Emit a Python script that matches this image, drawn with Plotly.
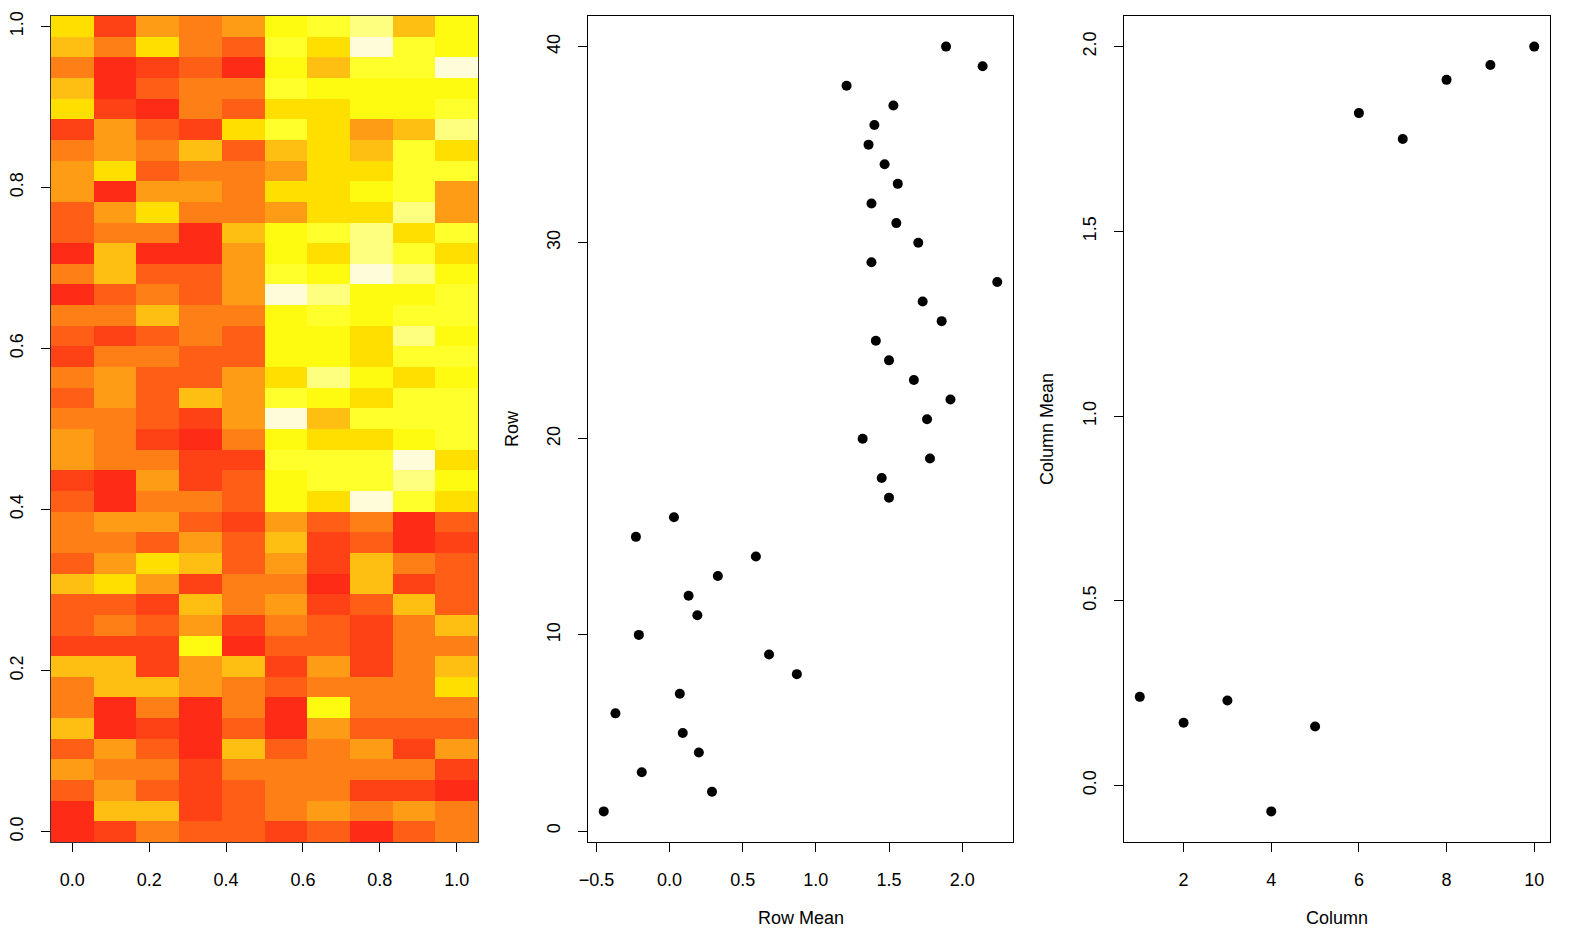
import numpy as np
import plotly.graph_objects as go

# heat.colors levels of each cell (top row first, columns left to right)
heat_levels = [
    [7, 2, 5, 4, 5, 8, 9, 10, 6, 8],
    [6, 4, 7, 4, 3, 9, 7, 11, 9, 8],
    [4, 1, 2, 3, 1, 8, 6, 9, 9, 11],
    [6, 1, 3, 4, 4, 9, 8, 8, 8, 8],
    [7, 2, 1, 4, 3, 7, 7, 8, 8, 9],
    [2, 5, 3, 2, 7, 9, 7, 5, 6, 10],
    [4, 5, 4, 6, 3, 6, 7, 6, 9, 7],
    [5, 7, 3, 4, 4, 5, 7, 7, 9, 9],
    [5, 1, 5, 5, 4, 7, 7, 8, 9, 5],
    [3, 5, 7, 4, 4, 5, 7, 7, 10, 5],
    [3, 4, 4, 1, 6, 8, 9, 10, 7, 9],
    [1, 6, 1, 1, 5, 8, 7, 10, 9, 7],
    [4, 6, 3, 3, 5, 9, 8, 11, 10, 8],
    [1, 3, 4, 3, 5, 11, 10, 8, 8, 9],
    [4, 4, 6, 4, 4, 8, 9, 8, 9, 9],
    [3, 2, 3, 4, 3, 8, 8, 7, 10, 8],
    [2, 4, 4, 3, 3, 8, 8, 7, 9, 9],
    [4, 5, 3, 3, 5, 7, 10, 8, 7, 8],
    [3, 5, 3, 6, 5, 9, 8, 7, 9, 9],
    [4, 4, 3, 2, 5, 11, 6, 9, 9, 9],
    [5, 4, 2, 1, 4, 8, 7, 7, 8, 9],
    [5, 4, 4, 2, 2, 9, 9, 9, 11, 7],
    [2, 1, 5, 2, 3, 8, 9, 9, 10, 8],
    [3, 1, 4, 4, 3, 8, 7, 11, 9, 7],
    [4, 5, 5, 3, 2, 5, 3, 4, 1, 3],
    [4, 4, 3, 5, 3, 6, 2, 3, 1, 2],
    [3, 5, 7, 6, 3, 5, 2, 6, 4, 3],
    [6, 7, 5, 2, 4, 4, 1, 6, 2, 3],
    [3, 3, 2, 6, 4, 5, 2, 3, 6, 3],
    [3, 4, 3, 5, 2, 4, 3, 2, 4, 6],
    [2, 2, 2, 8, 1, 3, 3, 2, 4, 4],
    [6, 6, 2, 5, 6, 2, 5, 2, 4, 6],
    [4, 6, 6, 5, 4, 3, 4, 4, 4, 7],
    [4, 1, 4, 1, 4, 1, 8, 4, 4, 4],
    [6, 1, 2, 1, 3, 1, 5, 3, 3, 3],
    [3, 5, 3, 1, 6, 3, 4, 5, 2, 5],
    [5, 4, 4, 2, 4, 4, 4, 4, 4, 2],
    [3, 5, 3, 2, 3, 4, 4, 2, 2, 1],
    [1, 6, 6, 2, 3, 4, 5, 4, 5, 4],
    [1, 2, 4, 3, 3, 2, 3, 1, 3, 4],
]
heat_x = [0.0, 1/9, 2/9, 3/9, 4/9, 5/9, 6/9, 7/9, 8/9, 1.0]

# rendered heat.colors palette (12 steps, lowest one not used here)
heat_palette = ["#FE1A14", "#FE2B17", "#FE4215", "#FE5E15", "#FE7F15", "#FE9D15",
                "#FEBE12", "#FEDF00", "#FEFB10", "#FFFF2C", "#FFFF7F", "#FFFCDA"]

# row means, for row 1 (bottom) up to row 40 (top)
row_index = list(range(1, 41))
row_means = [-0.45, 0.29, -0.19, 0.20, 0.09, -0.37, 0.07, 0.87, 0.68, -0.21,
             0.19, 0.13, 0.33, 0.59, -0.23, 0.03, 1.50, 1.45, 1.78, 1.32,
             1.76, 1.92, 1.67, 1.50, 1.41, 1.86, 1.73, 2.24, 1.38, 1.70,
             1.55, 1.38, 1.56, 1.47, 1.36, 1.40, 1.53, 1.21, 2.14, 1.89]

column = [1, 2, 3, 4, 5, 6, 7, 8, 9, 10]
col_means = [0.24, 0.17, 0.23, -0.07, 0.16, 1.82, 1.75, 1.91, 1.95, 2.00]

W, H = 1570, 929
FONT = "Liberation Sans, Arial, Helvetica, sans-serif"
FS = 18


def pad_range(vals, frac=0.04):
    # R style axis range: data range extended 4% on both sides
    lo, hi = min(vals), max(vals)
    d = (hi - lo) * frac
    return [lo - d, hi + d]


def px_dom(a, b, total):
    return [a / total, b / total]


# discrete colorscale, one flat band per level
levels = len(heat_palette)
colorscale = []
for i, c in enumerate(heat_palette):
    colorscale.append([i / levels, c])
    colorscale.append([(i + 1) / levels, c])

z = np.array(heat_levels[::-1], dtype=float)
heat_y = np.linspace(0, 1, len(heat_levels))

fig = go.Figure()
fig.add_trace(go.Heatmap(z=z, x=heat_x, y=heat_y, colorscale=colorscale,
                         zmin=-0.5, zmax=levels - 0.5, showscale=False,
                         xaxis="x", yaxis="y", hoverinfo="skip"))
fig.add_trace(go.Scatter(x=row_means, y=row_index, mode="markers",
                         marker=dict(color="black", size=10),
                         xaxis="x2", yaxis="y2", showlegend=False))
fig.add_trace(go.Scatter(x=column, y=col_means, mode="markers",
                         marker=dict(color="black", size=10),
                         xaxis="x3", yaxis="y3", showlegend=False))

axis_common = dict(showgrid=False, zeroline=False, showline=True, mirror=True,
                   automargin=False,
                   linecolor="black", linewidth=1, ticks="outside", ticklen=9,
                   tickcolor="black", tickfont=dict(family=FONT, size=FS, color="black"))

ydom = [(H - 842) / H, (H - 16) / H]

fig.update_layout(
    width=W, height=H,
    margin=dict(l=0, r=0, t=0, b=0),
    paper_bgcolor="white", plot_bgcolor="white",
    font=dict(family=FONT, size=FS, color="black"),
    showlegend=False,
    xaxis=dict(axis_common, domain=px_dom(51, 478, W), range=[-1/18, 1 + 1/18],
               tickvals=[0, 0.2, 0.4, 0.6, 0.8, 1.0], tickformat=".1f",
               ticklabelstandoff=12, linecolor="#333333"),
    yaxis=dict(axis_common, domain=ydom, range=[-1/78, 1 + 1/78],
               tickvals=[0, 0.2, 0.4, 0.6, 0.8, 1.0], tickformat=".1f",
               tickangle=-90, ticklabelstandoff=11, linecolor="#333333"),
    xaxis2=dict(axis_common, domain=px_dom(588, 1013, W), range=pad_range(row_means),
                tickvals=[-0.5, 0, 0.5, 1.0, 1.5, 2.0], tickformat=".1f",
                ticklabelstandoff=12, anchor="y2"),
    yaxis2=dict(axis_common, domain=ydom, range=pad_range(row_index),
                tickvals=[0, 10, 20, 30, 40], tickangle=-90,
                ticklabelstandoff=11, anchor="x2"),
    xaxis3=dict(axis_common, domain=px_dom(1124, 1550, W), range=pad_range(column),
                tickvals=[2, 4, 6, 8, 10], ticklabelstandoff=12, anchor="y3"),
    yaxis3=dict(axis_common, domain=ydom, range=pad_range(col_means),
                tickvals=[0, 0.5, 1.0, 1.5, 2.0], tickformat=".1f", tickangle=-90,
                ticklabelstandoff=11, anchor="x3"),
)

# axis titles placed like R's mtext (line 3)
titles = [
    dict(text="Row Mean", x=(588 + 1013) / 2 / W, y=(H - 918) / H, textangle=0),
    dict(text="Column", x=(1124 + 1550) / 2 / W, y=(H - 918) / H, textangle=0),
    dict(text="Row", x=512 / W, y=(H - 429) / H, textangle=-90),
    dict(text="Column Mean", x=1047 / W, y=(H - 429) / H, textangle=-90),
]
for t in titles:
    fig.add_annotation(text=t["text"], x=t["x"], y=t["y"], xref="paper", yref="paper",
                       xanchor="center", yanchor="middle", showarrow=False,
                       textangle=t["textangle"], font=dict(family=FONT, size=FS, color="black"))

# page body margin would push the figure off the window
fig.write_html("out.html", config={"displayModeBar": False},
               post_script="document.body.style.margin='0';document.body.style.overflow='hidden';")
